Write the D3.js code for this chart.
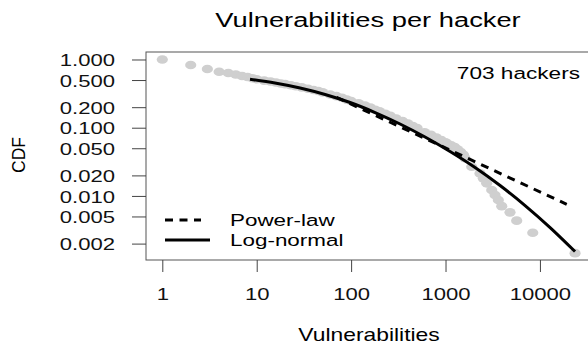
<!doctype html>
<html>
  <head>
    <script src="https://cdnjs.cloudflare.com/ajax/libs/d3/7.8.5/d3.min.js"></script>
    <style>
      body { margin: 0; background: #fff; }
      svg { display: block; font-family: "Liberation Sans", Arial, Helvetica, sans-serif; }
      ellipse.obs { fill: #cfcfcf; stroke: none; }
      path.fit { fill: none; stroke: #000; stroke-width: 3; }
      path.fit.power { stroke-dasharray: 8 6.5; }
      .axis path.domain { display: none; }
      .axis line { stroke: #444; stroke-width: 1; }
      .axis text { fill: #111; }
    </style>
  </head>
  <body>
    <svg width="588" height="346"></svg>
    <script>
      // observed CCDF (vulnerabilities, fraction of hackers with at least that many)
      var obsX = [1, 2, 3, 4, 5, 6, 7, 8, 9, 10, 12, 14, 16, 18, 20, 23, 26, 30, 35, 40, 45, 50,
                  60, 70, 80, 90, 100, 120, 140, 160, 180, 200, 230, 260, 300, 350, 400, 450, 500,
                  600, 700, 800, 900, 1000, 1050, 1150, 1250, 1350, 1450, 1550, 1610, 1895, 2320,
                  2515, 2730, 3085, 3345, 3625, 3940, 4820, 5675, 8395, 23550];
      var obsP = [1, 0.83, 0.725, 0.662, 0.634, 0.603, 0.573, 0.554, 0.532, 0.513, 0.49, 0.475,
                  0.46, 0.445, 0.435, 0.42, 0.405, 0.39, 0.372, 0.357, 0.345, 0.33, 0.307, 0.29,
                  0.275, 0.258, 0.246, 0.228, 0.212, 0.197, 0.183, 0.174, 0.16, 0.149, 0.136,
                  0.125, 0.115, 0.106, 0.099, 0.086, 0.079, 0.072, 0.066, 0.061, 0.058, 0.055,
                  0.052, 0.048, 0.044, 0.04, 0.0356, 0.0268, 0.0214, 0.0181, 0.0153, 0.0122,
                  0.0103, 0.00871, 0.00708, 0.00574, 0.00434, 0.00289, 0.00145];

      // fitted log-normal
      var lognormX = [8.49, 15.6, 28.8, 53, 97.5, 179.5, 330, 607, 1117, 2056, 3784, 6966, 12820, 23560];
      var lognormP = [0.513, 0.452, 0.382, 0.307, 0.234, 0.167, 0.1133, 0.0731, 0.0448, 0.0261,
                      0.0142, 0.00723, 0.00344, 0.00153];

      // fitted power law (straight in log-log)
      var powerX = [70, 19230];
      var powerP = [0.279, 0.00753];

      var xTicks = [1, 10, 100, 1000, 10000];
      var yTicks = [1, 0.5, 0.2, 0.1, 0.05, 0.02, 0.01, 0.005, 0.002];
      var yTickLabels = ["1.000", "0.500", "0.200", "0.100", "0.050", "0.020", "0.010", "0.005", "0.002"];

      var legendLabels = ["Power-law", "Log-normal"];

      var svg = d3.select("svg");
      var sx = 1.3; // the original is stretched sideways

      var x = d3.scaleLog().domain([0.672, 32300]).range([146, 588]);
      var y = d3.scaleLog().domain([1.288, 0.00115]).range([52, 260]);

      // points
      svg.append("g").selectAll("ellipse.obs")
        .data(obsX.map((d, i) => [d, obsP[i]]))
        .enter()
        .append("ellipse")
          .attr("class", "obs")
          .attr("cx", d => x(d[0]))
          .attr("cy", d => y(d[1]))
          .attr("rx", 5.6)
          .attr("ry", 4.3);

      var line = d3.line().x(d => x(d[0])).y(d => y(d[1])).curve(d3.curveMonotoneX);

      svg.append("path")
        .datum(powerX.map((d, i) => [d, powerP[i]]))
        .attr("class", "fit power")
        .attr("d", d3.line().x(d => x(d[0])).y(d => y(d[1])));

      svg.append("path")
        .datum(lognormX.map((d, i) => [d, lognormP[i]]))
        .attr("class", "fit")
        .attr("d", line);

      // box
      svg.append("rect")
        .attr("x", 146).attr("y", 52)
        .attr("width", 450).attr("height", 208)
        .attr("fill", "none").attr("stroke", "#555").attr("stroke-width", 1);

      // axes
      var xAxis = svg.append("g")
        .attr("class", "axis")
        .attr("transform", "translate(0,260)")
        .call(d3.axisBottom(x).tickValues(xTicks).tickFormat(d3.format("d")).tickSize(12));
      xAxis.selectAll("text")
        .attr("y", 40).attr("dy", null)
        .attr("transform", "scale(" + sx + ",1)")
        .style("font-size", "17px");

      var yAxis = svg.append("g")
        .attr("class", "axis")
        .attr("transform", "translate(146,0)")
        .call(d3.axisLeft(y).tickValues(yTicks).tickFormat((d, i) => yTickLabels[i]).tickSize(14));
      yAxis.selectAll("text")
        .attr("x", 0).attr("dy", "0.36em")
        .attr("transform", "translate(-31,0) scale(" + sx + ",1)")
        .style("font-size", "17px");

      // titles
      svg.append("text")
        .attr("transform", "translate(368,26.5) scale(" + sx + ",1)")
        .attr("text-anchor", "middle")
        .style("font-size", "21px")
        .text("Vulnerabilities per hacker");

      svg.append("text")
        .attr("transform", "translate(369,341) scale(1.27,1)")
        .attr("text-anchor", "middle")
        .style("font-size", "18px")
        .text("Vulnerabilities");

      svg.append("text")
        .attr("transform", "translate(25,155) rotate(-90)")
        .attr("text-anchor", "middle")
        .style("font-size", "17.5px")
        .text("CDF");

      svg.append("text")
        .attr("transform", "translate(580,79) scale(1.33,1)")
        .attr("text-anchor", "end")
        .style("font-size", "17px")
        .text("703 hackers");

      // legend
      var legend = svg.append("g").attr("transform", "translate(165,220)");
      legend.selectAll("path.key")
        .data(legendLabels)
        .enter()
        .append("path")
          .attr("class", (d, i) => i == 0 ? "fit power" : "fit")
          .attr("d", (d, i) => "M0," + (i * 20) + "H" + (i == 0 ? 36 : 45));
      legend.selectAll("text")
        .data(legendLabels)
        .enter()
        .append("text")
          .attr("transform", (d, i) => "translate(65," + (i * 20.5 + 5.5) + ") scale(1.32,1)")
          .style("font-size", "17px")
          .text(d => d);
    </script>
  </body>
</html>
